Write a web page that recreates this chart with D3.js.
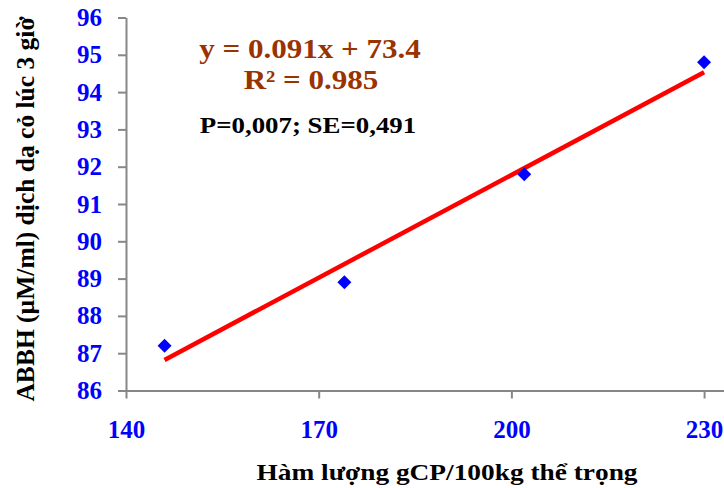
<!DOCTYPE html>
<html>
<head>
<meta charset="utf-8">
<script src="https://cdn.jsdelivr.net/npm/d3@7"></script>
<style>
body { margin: 0; background: #fff; }
svg { display: block; font-family: "Liberation Serif", "Times New Roman", serif; }
</style>
</head>
<body>
<svg id="chart" width="724" height="488"></svg>
<script>
// values
var xValues = [146, 174, 202, 230];
var yValues = [87.2, 88.9, 91.8, 94.8];
var xTicks = [140, 170, 200, 230];
var yTicks = [86, 87, 88, 89, 90, 91, 92, 93, 94, 95, 96];
var eqLabel = "y = 0.091x + 73.4";
var r2Label = "R\u00b2 = 0.985";
var statLabel = "P=0,007; SE=0,491";

var svg = d3.select("#chart");

var x = d3.scaleLinear().domain([140, 233.1]).range([126, 724]);
var y = d3.scaleLinear().domain([86, 96]).range([390.5, 17.5]);

// axes
var gx = svg.append("g")
    .attr("transform", "translate(0," + y(86) + ")")
    .call(d3.axisBottom(x).tickValues(xTicks).tickSize(8).tickSizeOuter(0).tickPadding(22));
var gy = svg.append("g")
    .attr("transform", "translate(" + x(140) + ",0)")
    .call(d3.axisLeft(y).tickValues(yTicks).tickSize(8).tickSizeOuter(0).tickPadding(16));

[gx, gy].forEach(function(g) {
    g.selectAll("path, line").attr("stroke", "#878787").attr("stroke-width", 2);
    g.selectAll("text")
        .attr("fill", "#0000ff")
        .attr("font-weight", "bold")
        .attr("font-size", 25)
        .attr("font-family", "Liberation Serif");
});

// least squares trend
var n = xValues.length;
var mx = d3.mean(xValues), my = d3.mean(yValues);
var sxy = 0, sxx = 0;
for (var i = 0; i < n; i++) {
    sxy += (xValues[i] - mx) * (yValues[i] - my);
    sxx += (xValues[i] - mx) * (xValues[i] - mx);
}
var slope = sxy / sxx, icpt = my - slope * mx;
var xr = d3.extent(xValues);

svg.append("line")
    .attr("x1", x(xr[0])).attr("y1", y(slope * xr[0] + icpt))
    .attr("x2", x(xr[1])).attr("y2", y(slope * xr[1] + icpt))
    .attr("stroke", "#ff0000")
    .attr("stroke-width", 4.5);

var pts = xValues.map(function(v, i) { return {x: v, y: yValues[i]}; });
svg.selectAll("path.pt")
    .data(pts)
    .enter().append("path")
    .attr("class", "pt")
    .attr("d", "M0,-7L7,0L0,7L-7,0Z")
    .attr("transform", function(d) { return "translate(" + x(d.x) + "," + y(d.y) + ")"; })
    .attr("fill", "#0000ff");

// labels (the source is a bit wider than it is tall, hence the x stretch)
function label(cx, by, size, sx, color, txt) {
    svg.append("text")
        .attr("transform", "translate(" + cx + "," + by + ") scale(" + sx + ",1)")
        .attr("text-anchor", "middle")
        .attr("font-size", size).attr("font-weight", "bold")
        .attr("fill", color)
        .text(txt);
}
label(310, 58, 27, 1.15, "#993300", eqLabel);
label(311, 89, 27, 1.15, "#993300", r2Label);
label(308, 133, 24, 1.12, "#000", statLabel);
label(447, 480, 23, 1.19, "#000", "H\u00e0m l\u01b0\u1ee3ng gCP/100kg th\u1ec3 tr\u1ecdng");

svg.append("text")
    .attr("transform", "translate(34,209) rotate(-90)")
    .attr("text-anchor", "middle")
    .attr("font-size", 25.5).attr("font-weight", "bold")
    .text("ABBH (\u00b5M/ml) d\u1ecbch d\u1ea1 c\u1ecf l\u00fac 3 gi\u1edd");
</script>
</body>
</html>
